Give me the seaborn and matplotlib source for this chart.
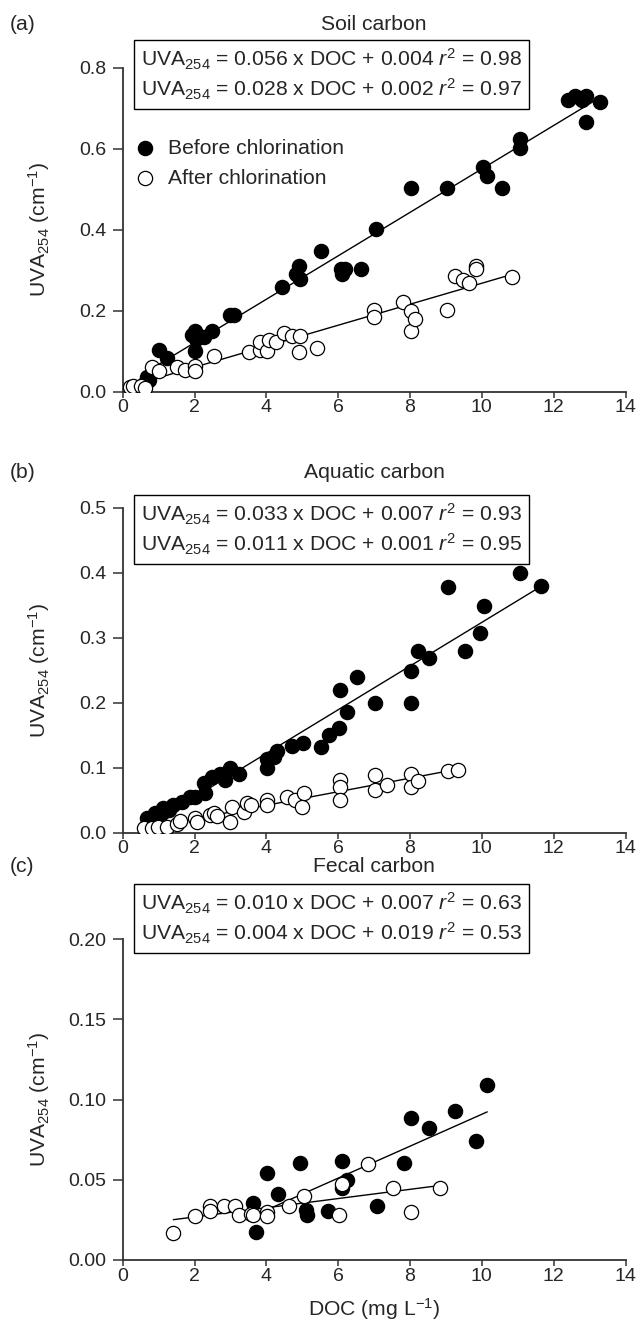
# -*- coding: utf-8 -*-
"""
UVA254 against DOC before and after chlorination for three carbon sources
"""

import numpy as np
import matplotlib
matplotlib.use("Agg")
import matplotlib.pyplot as plt
from matplotlib.ticker import FormatStrFormatter
import seaborn as sns

# data
titles = ["Soil carbon", "Aquatic carbon", "Fecal carbon"]
panel_tags = ["(a)", "(b)", "(c)"]
series_names = ["Before chlorination", "After chlorination"]

soil_before_doc = [0.6, 0.67, 0.72, 1.02, 1.23, 1.94, 2.0, 2.05, 2.02, 2.25, 2.5,
                   3.0, 3.1, 4.44, 4.82, 4.9, 4.93, 5.53, 6.07, 6.1, 6.2, 6.63,
                   7.05, 8.03, 9.03, 10.04, 10.14, 10.56, 11.05, 11.05, 12.4,
                   12.6, 12.8, 12.9, 12.9, 13.3]
soil_before_uva = [0.02, 0.037, 0.03, 0.104, 0.083, 0.14, 0.15, 0.13, 0.10, 0.135,
                   0.15, 0.19, 0.19, 0.258, 0.29, 0.31, 0.278, 0.348, 0.302,
                   0.29, 0.302, 0.302, 0.402, 0.503, 0.503, 0.555, 0.533,
                   0.503, 0.625, 0.602, 0.72, 0.73, 0.72, 0.73, 0.665, 0.715]
soil_after_doc = [0.2, 0.3, 0.5, 0.62, 0.81, 1.02, 1.5, 1.74, 2.02, 2.02, 2.53,
                  3.51, 3.82, 3.83, 4.02, 4.07, 4.27, 4.5, 4.72, 4.92, 4.93, 5.42,
                  7.0, 7.0, 7.81, 8.03, 8.04, 8.14, 9.03, 9.25, 9.47, 9.65, 9.84,
                  9.84, 10.84]
soil_after_uva = [0.012, 0.015, 0.015, 0.01, 0.062, 0.05, 0.06, 0.054, 0.064, 0.05,
                  0.087, 0.097, 0.104, 0.122, 0.101, 0.127, 0.122, 0.145, 0.137,
                  0.097, 0.138, 0.109, 0.201, 0.185, 0.221, 0.151, 0.199, 0.18,
                  0.201, 0.286, 0.276, 0.269, 0.31, 0.302, 0.284]

aquatic_before_doc = [0.67, 0.9, 1.09, 1.13, 1.3, 1.41, 1.65, 1.88, 2.0, 2.25, 2.3,
                      2.49, 2.72, 2.86, 3.0, 3.23, 4.02, 4.02, 4.21, 4.3, 4.72,
                      5.03, 5.51, 5.74, 6.03, 6.05, 6.24, 6.52, 7.03, 8.03, 8.03,
                      8.23, 8.54, 9.05, 9.54, 9.95, 10.05, 11.05, 11.64]
aquatic_before_uva = [0.022, 0.03, 0.030, 0.038, 0.035, 0.043, 0.048, 0.055, 0.055,
                      0.076, 0.061, 0.086, 0.091, 0.081, 0.10, 0.091, 0.114, 0.099,
                      0.117, 0.125, 0.133, 0.138, 0.132, 0.150, 0.161, 0.22, 0.185,
                      0.240, 0.200, 0.200, 0.249, 0.280, 0.269, 0.378, 0.280,
                      0.307, 0.349, 0.399, 0.380]
aquatic_after_doc = [0.58, 0.81, 0.99, 1.23, 1.51, 1.6, 2.02, 2.07, 2.44, 2.53,
                     2.63, 3.0, 3.04, 3.37, 3.46, 3.56, 4.02, 4.02, 4.58, 4.81,
                     5.0, 5.04, 6.05, 6.05, 6.05, 7.03, 7.03, 7.35, 8.03, 8.03,
                     8.23, 9.05, 9.35]
aquatic_after_uva = [0.007, 0.007, 0.009, 0.009, 0.014, 0.018, 0.022, 0.017, 0.027,
                     0.030, 0.025, 0.017, 0.040, 0.032, 0.045, 0.043, 0.050, 0.043,
                     0.055, 0.050, 0.040, 0.061, 0.081, 0.071, 0.050, 0.089, 0.066,
                     0.073, 0.090, 0.070, 0.080, 0.095, 0.097]

fecal_before_doc = [3.63, 3.71, 4.02, 4.32, 4.95, 5.09, 5.12, 5.72, 6.12, 6.12,
                    6.24, 7.09, 7.84, 8.04, 8.54, 9.24, 9.84, 10.15]
fecal_before_uva = [0.0353, 0.0174, 0.0544, 0.041, 0.0607, 0.031, 0.028, 0.0305,
                    0.0618, 0.045, 0.050, 0.0338, 0.0602, 0.0882, 0.0824, 0.0928,
                    0.0741, 0.109]
fecal_after_doc = [1.41, 2.02, 2.42, 2.42, 2.81, 3.12, 3.23, 3.56, 3.63, 4.02,
                   4.02, 4.63, 5.04, 6.02, 6.12, 6.83, 7.54, 8.04, 8.84]
fecal_after_uva = [0.017, 0.0274, 0.0338, 0.0305, 0.0338, 0.0338, 0.028, 0.0284,
                   0.028, 0.0297, 0.0276, 0.0338, 0.040, 0.028, 0.0472, 0.0598,
                   0.045, 0.030, 0.0446]

equations = [
    ["0.056", "0.004", "0.98", "0.028", "0.002", "0.97"],
    ["0.033", "0.007", "0.93", "0.011", "0.001", "0.95"],
    ["0.010", "0.007", "0.63", "0.004", "0.019", "0.53"],
]

y_max = [0.8, 0.5, 0.2]
y_step = [0.2, 0.1, 0.05]
y_fmt = ["%.1f", "%.1f", "%.2f"]

panels = [
    (soil_before_doc, soil_before_uva, soil_after_doc, soil_after_uva),
    (aquatic_before_doc, aquatic_before_uva, aquatic_after_doc, aquatic_after_uva),
    (fecal_before_doc, fecal_before_uva, fecal_after_doc, fecal_after_uva),
]

# set theme
sns.set_theme(style="ticks")
plt.rcParams["font.family"] = ["Liberation Sans", "DejaVu Sans"]
plt.rcParams["mathtext.fontset"] = "custom"
plt.rcParams["mathtext.rm"] = "Liberation Sans"
plt.rcParams["mathtext.it"] = "Liberation Sans:italic"
plt.rcParams["mathtext.default"] = "regular"

FS = 15.2      # titles, labels, box, legend
FS_TICK = 14
W, H = 639, 1333
fig = plt.figure(figsize=(W / 100, H / 100), dpi=100)

# axes placement in pixels: (top, bottom) of the y axis
ax_left, ax_right = 122.7, 625.5
ax_rows = [(67.7, 391.7), (507.7, 832.7), (939, 1260)]
title_y = [25, 473, 867]
box_top = [40, 495, 884]

for i, (xb, yb, xa, ya) in enumerate(panels):
    top, bot = ax_rows[i]
    ax = fig.add_axes([ax_left / W, 1 - bot / H, (ax_right - ax_left) / W, (bot - top) / H])

    # regression lines
    sns.regplot(x=np.array(xb), y=np.array(yb), ax=ax, scatter=False, ci=None,
                truncate=True, line_kws=dict(color="black", lw=1.0, zorder=1))
    sns.regplot(x=np.array(xa), y=np.array(ya), ax=ax, scatter=False, ci=None,
                truncate=True, line_kws=dict(color="black", lw=1.0, zorder=1))

    # points
    sns.scatterplot(x=xb, y=yb, ax=ax, color="black", edgecolor="black", s=105,
                    linewidth=0.9, label=series_names[0], zorder=3)
    sns.scatterplot(x=xa, y=ya, ax=ax, color="white", edgecolor="black", s=105,
                    linewidth=0.9, label=series_names[1], zorder=4)

    ax.set_xlim(0, 14)
    ax.set_ylim(0, y_max[i])
    ax.set_xticks(np.arange(0, 15, 2))
    ax.set_yticks(np.arange(0, y_max[i] + 1e-9, y_step[i]))
    ax.yaxis.set_major_formatter(FormatStrFormatter(y_fmt[i]))
    ax.tick_params(axis="y", direction="out", length=7, width=1.1,
                   labelsize=FS_TICK, pad=5, color="#333333")
    ax.tick_params(axis="x", direction="out", length=4.5, width=1.1,
                   labelsize=FS_TICK, pad=1, color="#333333")
    sns.despine(ax=ax)
    for side in ["left", "bottom"]:
        ax.spines[side].set_linewidth(1.3)
        ax.spines[side].set_color("#333333")

    ax.set_ylabel(r"UVA$_{254}$ (cm$^{-1}$)", fontsize=FS)
    ax.yaxis.set_label_coords(-0.14, 0.5)
    ax.set_xlabel("")

    # title and panel tag
    fig.text(0.5 * (ax_left + ax_right) / W, 1 - title_y[i] / H, titles[i],
             ha="center", va="center", fontsize=FS)
    fig.text(10 / W, 1 - title_y[i] / H, panel_tags[i], ha="left", va="center",
             fontsize=FS)

    # equation box
    e = equations[i]
    eq_text = (r"UVA$_{254}$ = %s x DOC + %s $\mathit{r}^{2}$ = %s" % (e[0], e[1], e[2])
               + "\n"
               + r"UVA$_{254}$ = %s x DOC + %s $\mathit{r}^{2}$ = %s" % (e[3], e[4], e[5]))
    fig.text(141 / W, 1 - (box_top[i] + 7) / H, eq_text, ha="left", va="top",
             fontsize=FS, linespacing=1.25,
             bbox=dict(boxstyle="square,pad=0.33", fc="white", ec="black", lw=1.0))

    if i == 0:
        ax.legend(loc="upper left", bbox_to_anchor=(0.006, 0.806), frameon=False,
                  fontsize=FS, handlelength=1.0, handletextpad=0.6,
                  labelspacing=0.5, borderaxespad=0)
    else:
        ax.get_legend().remove()

    if i == 2:
        ax.set_xlabel(r"DOC (mg L$^{-1}$)", fontsize=FS, labelpad=8)

plt.savefig("out.png", dpi=100)
